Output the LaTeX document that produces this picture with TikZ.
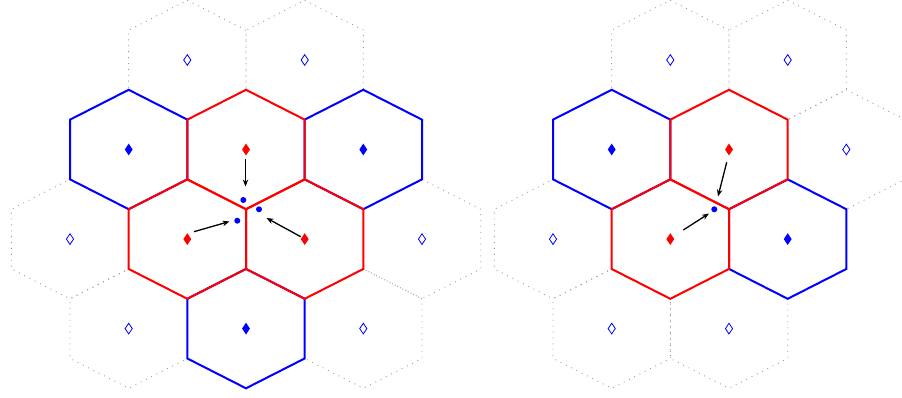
\documentclass[tikz,border=0pt]{standalone}
\usetikzlibrary{shapes.geometric,arrows.meta}
\begin{document}
\begin{tikzpicture}[x=1pt,y=-1pt,
 dothex/.style={draw=gray!80,line width=0.9pt,dash pattern=on 0.9pt off 5pt},
 bluehex/.style={draw=blue,line width=2pt,line join=miter},
 redhex/.style={draw=red,line width=2pt,line join=miter},
 fdia/.style={diamond,fill=#1,inner sep=0pt,minimum width=8pt,minimum height=12pt},
 odia/.style={diamond,draw=blue,line width=0.8pt,inner sep=0pt,minimum width=7.5pt,minimum height=11pt},
 site/.style={circle,fill=blue,inner sep=0pt,minimum size=6pt},
 arr/.style={-{Stealth[length=7pt,width=5.5pt]},line width=1.3pt,black}]
\useasboundingbox (0,0) rectangle (902,398);
\clip (0,0) rectangle (902,398);
\def\W{58.7}\def\R{59.7}
\newcommand\hexcell[3]{\draw[#1] (#2,#3) ++(0,-\R) -- ++(\W,\R/2) -- ++(0,\R) -- ++(-\W,\R/2) -- ++(-\W,-\R/2) -- ++(0,-\R) -- cycle;}
% ---------- left grid ----------
\foreach \x/\y in {187.3/60, 304.7/60, 70/239.1, 422/239.1, 128.7/328.6, 363.3/328.6}
  {\hexcell{dothex}{\x}{\y}}
\foreach \x/\y in {128.7/149.5, 363.3/149.5, 246/328.6}
  {\hexcell{bluehex}{\x}{\y}}
\foreach \x/\y in {246/149.5, 187.3/239.1, 304.7/239.1}
  {\hexcell{redhex}{\x}{\y}}
\node[odia] (la) at (187.3,60) {};
\node[odia] (lb) at (304.7,60) {};
\node[odia] (lc) at (70,239.1) {};
\node[odia] (ld) at (422,239.1) {};
\node[odia] (le) at (128.7,328.6) {};
\node[odia] (lf) at (363.3,328.6) {};
\node[fdia=blue] (lg) at (128.7,149.5) {};
\node[fdia=blue] (lh) at (363.3,149.5) {};
\node[fdia=blue] (li) at (246,328.6) {};
\node[fdia=red] (lr1) at (246,149.5) {};
\node[fdia=red] (lr2) at (187.3,239.1) {};
\node[fdia=red] (lr3) at (304.7,239.1) {};
\node[site] (ls1) at (243.3,200) {};
\node[site] (ls2) at (259,209.3) {};
\node[site] (ls3) at (237.3,220.7) {};
\coordinate (la1) at (245.5,159);
\coordinate (la2) at (245.5,186.5);
\coordinate (lb1) at (194,231.7);
\coordinate (lb2) at (229.5,221.5);
\coordinate (lc1) at (300.7,236.7);
\coordinate (lc2) at (266.5,218);
\draw[arr] (la1) -- (la2);
\draw[arr] (lb1) -- (lb2);
\draw[arr] (lc1) -- (lc2);
% ---------- right grid ----------
\foreach \x/\y in {670.3/60, 787.7/60, 846.3/149.5, 553/239.1, 611.7/328.6, 729/328.6}
  {\hexcell{dothex}{\x}{\y}}
\foreach \x/\y in {611.7/149.5, 787.7/239.1}
  {\hexcell{bluehex}{\x}{\y}}
\foreach \x/\y in {729/149.5, 670.3/239.1}
  {\hexcell{redhex}{\x}{\y}}
\node[odia] (ra) at (670.3,60) {};
\node[odia] (rb) at (787.7,60) {};
\node[odia] (rc) at (846.3,149.5) {};
\node[odia] (rd) at (553,239.1) {};
\node[odia] (re) at (611.7,328.6) {};
\node[odia] (rf) at (729,328.6) {};
\node[fdia=blue] (rg) at (611.7,149.5) {};
\node[fdia=blue] (rh) at (787.7,239.1) {};
\node[fdia=red] (rr1) at (729,149.5) {};
\node[fdia=red] (rr2) at (670.3,239.1) {};
\node[site] (rs1) at (714.3,209.3) {};
\coordinate (ra1) at (726.7,162.3);
\coordinate (ra2) at (718,196.5);
\coordinate (rb1) at (683.3,230);
\coordinate (rb2) at (709,213.5);
\draw[arr] (ra1) -- (ra2);
\draw[arr] (rb1) -- (rb2);
\end{tikzpicture}
\end{document}
